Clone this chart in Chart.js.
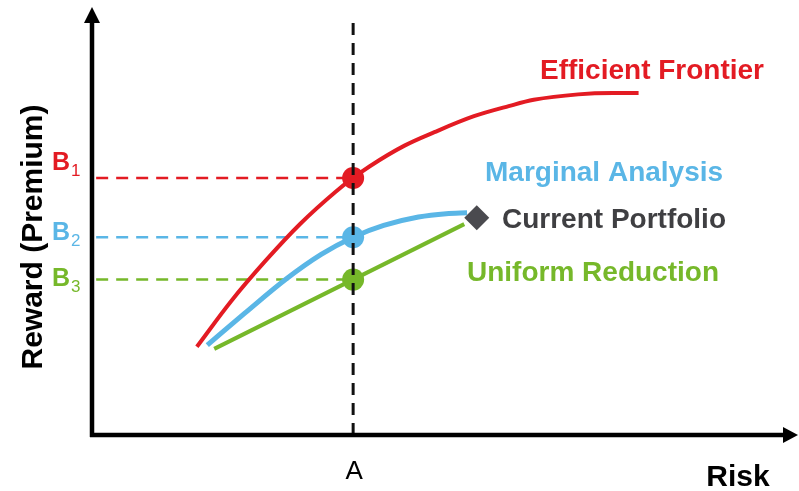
<!DOCTYPE html>
<html>
<head>
<meta charset="utf-8">
<script src="https://cdn.jsdelivr.net/npm/chart.js@4"></script>
<style>
  html, body { margin: 0; padding: 0; background: #fff; }
  canvas { display: block; }
</style>
</head>
<body>
<canvas id="chart" width="799" height="491"></canvas>
<script>
// risk / reward in arbitrary units (0..10 on both axes)
const frontierRisk   = [1.51, 2.00, 2.50, 3.00, 3.50, 3.76, 4.00, 4.50, 4.93, 5.50, 6.00, 6.36, 7.00, 7.50, 7.87];
const frontierReward = [2.10, 3.18, 4.15, 5.03, 5.78, 6.12, 6.40, 6.89, 7.21, 7.59, 7.83, 7.98, 8.11, 8.14, 8.14];

const marginalRisk   = [1.66, 2.20, 2.80, 3.30, 3.76, 4.20, 4.70, 5.10, 5.40];
const marginalReward = [2.14, 2.90, 3.72, 4.30, 4.71, 4.99, 5.19, 5.27, 5.29];

const uniformRisk   = [1.76, 5.36];
const uniformReward = [2.05, 5.02];

const currentPortfolio = { risk: 5.54, reward: 5.17 };

const riskA = 3.76;
const levelNames  = ['B1', 'B2', 'B3'];
const levelValues = [6.12, 4.71, 3.70];

const red = '#e31b23', blue = '#5ab6e6', green = '#76b82a', grey = '#4a4a4f';
const levelColors = [red, blue, green];

const zip = (xs, ys) => xs.map((x, i) => ({ x, y: ys[i] }));

const datasets = [
  { // vertical dashed line at A
    data: [{ x: riskA, y: 0 }, { x: riskA, y: 10 }],
    borderColor: '#111', borderWidth: 3, borderDash: [12, 8], order: 0
  },
  { // points on the A line
    data: levelValues.map(v => ({ x: riskA, y: v })),
    showLine: false, pointRadius: 11, pointBorderWidth: 0,
    pointBackgroundColor: levelColors, order: 1
  },
  { // current portfolio
    data: [{ x: currentPortfolio.risk, y: currentPortfolio.reward }],
    showLine: false, pointStyle: 'rectRot', pointRadius: 12.5, pointBorderWidth: 0,
    pointBackgroundColor: grey, order: 2
  },
  { data: zip(frontierRisk, frontierReward), borderColor: red, borderWidth: 4, cubicInterpolationMode: 'monotone', order: 3 },
  { data: zip(marginalRisk, marginalReward), borderColor: blue, borderWidth: 5, cubicInterpolationMode: 'monotone', order: 4 },
  { data: zip(uniformRisk, uniformReward), borderColor: green, borderWidth: 4, order: 5 }
];
levelValues.forEach((v, i) => {
  datasets.push({
    data: [{ x: 0.06, y: v }, { x: riskA, y: v }],
    borderColor: levelColors[i], borderWidth: 2.5, borderDash: [12, 8], order: 6
  });
});
datasets.forEach(d => {
  if (d.showLine === undefined) { d.showLine = true; d.pointRadius = 0; }
});

const labelsPlugin = {
  id: 'labels',
  afterDraw(chart) {
    const { ctx, chartArea: a, scales } = chart;
    ctx.save();
    // axes with arrows
    ctx.strokeStyle = '#000'; ctx.fillStyle = '#000'; ctx.lineWidth = 4.5;
    ctx.beginPath();
    ctx.moveTo(a.left, a.bottom + 2); ctx.lineTo(a.left, 20);
    ctx.moveTo(a.left - 2, a.bottom); ctx.lineTo(787, a.bottom);
    ctx.stroke();
    ctx.beginPath();
    ctx.moveTo(a.left, 7); ctx.lineTo(a.left - 8, 23); ctx.lineTo(a.left + 8, 23); ctx.closePath();
    ctx.moveTo(798, a.bottom); ctx.lineTo(783, a.bottom - 8); ctx.lineTo(783, a.bottom + 8); ctx.closePath();
    ctx.fill();

    ctx.textBaseline = 'middle';
    ctx.textAlign = 'left';
    ctx.font = 'bold 28px "Liberation Sans", Arial, sans-serif';
    ctx.fillStyle = red;   ctx.fillText('Efficient Frontier', 540, 71);
    ctx.fillStyle = blue;  ctx.fillText('Marginal Analysis', 485, 173);
    ctx.fillStyle = '#3f3f42'; ctx.fillText('Current Portfolio', 502, 220);
    ctx.fillStyle = green; ctx.fillText('Uniform Reduction', 467, 273);

    // B levels
    const offs = [-15, -4, 0];
    levelNames.forEach((n, i) => {
      const y = scales.y.getPixelForValue(levelValues[i]) + offs[i];
      ctx.fillStyle = levelColors[i];
      ctx.font = 'bold 25px "Liberation Sans", Arial, sans-serif';
      ctx.fillText(n[0], 52, y);
      ctx.font = '17px "Liberation Sans", Arial, sans-serif';
      ctx.fillText(n.slice(1), 71, y + 8);
    });

    // axis titles
    ctx.fillStyle = '#000';
    ctx.textAlign = 'center';
    ctx.font = '26px "Liberation Sans", Arial, sans-serif';
    ctx.fillText('A', scales.x.getPixelForValue(riskA) + 1, 472);
    ctx.font = 'bold 30px "Liberation Sans", Arial, sans-serif';
    ctx.fillText('Risk', 738, 478);
    ctx.translate(34, 237);
    ctx.rotate(-Math.PI / 2);
    ctx.fillText('Reward (Premium)', 0, 0);
    ctx.restore();
  }
};

new Chart(document.getElementById('chart').getContext('2d'), {
  type: 'scatter',
  data: { datasets },
  options: {
    responsive: false,
    animation: false,
    layout: { padding: { left: 92, right: 7, top: 15, bottom: 56 } },
    plugins: { legend: { display: false }, tooltip: { enabled: false } },
    scales: {
      x: { type: 'linear', min: 0, max: 10, display: false },
      y: { type: 'linear', min: 0, max: 10, display: false }
    }
  },
  plugins: [labelsPlugin]
});
</script>
</body>
</html>
